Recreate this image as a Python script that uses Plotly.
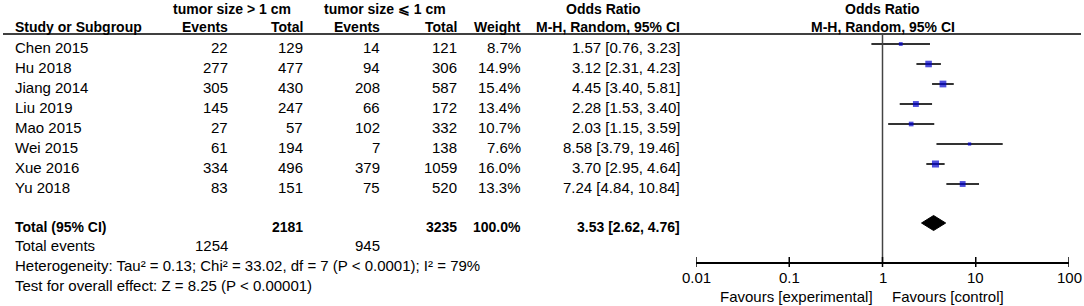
import math
import plotly.graph_objects as go

W, H = 1084, 306

# ---------------- data ----------------
studies = ["Chen 2015", "Hu 2018", "Jiang 2014", "Liu 2019", "Mao 2015", "Wei 2015", "Xue 2016", "Yu 2018"]
events_big = [22, 277, 305, 145, 27, 61, 334, 83]
total_big = [129, 477, 430, 247, 57, 194, 496, 151]
events_small = [14, 94, 208, 66, 102, 7, 379, 75]
total_small = [121, 306, 587, 172, 332, 138, 1059, 520]
weights = [8.7, 14.9, 15.4, 13.4, 10.7, 7.6, 16.0, 13.3]
odds = [1.57, 3.12, 4.45, 2.28, 2.03, 8.58, 3.70, 7.24]
ci_low = [0.76, 2.31, 3.40, 1.53, 1.15, 3.79, 2.95, 4.84]
ci_high = [3.23, 4.23, 5.81, 3.40, 3.59, 19.46, 4.64, 10.84]

pooled_total_big = 2181
pooled_total_small = 3235
pooled_weight = 100.0
pooled_or = 3.53
pooled_low = 2.62
pooled_high = 4.76
total_events_big = 1254
total_events_small = 945

heterogeneity_text = "Heterogeneity: Tau² = 0.13; Chi² = 33.02, df = 7 (P < 0.0001); I² = 79%"
overall_text = "Test for overall effect: Z = 8.25 (P < 0.00001)"

tick_vals = [0.01, 0.1, 1, 10, 100]
tick_labels = ["0.01", "0.1", "1", "10", "100"]

# ---------------- layout constants ----------------
FONT = "Liberation Sans, Arial, sans-serif"
FS = 15
FSB = 14
ROW0, STEP = 44, 20
TXT_OFF = 3
TOTAL_Y = 223
AXIS_Y = 262
HEAD_LINE_Y = 34
C_EV1, C_TOT1, C_EV2, C_TOT2, C_W, C_CI = 230, 305, 382, 459, 523, 682
LEFT = 13

row_y = [ROW0 + i * STEP for i in range(len(studies))]

fig = go.Figure()

# CI lines
xs, ys = [], []
for lo, hi, y in zip(ci_low, ci_high, row_y):
    xs += [lo, hi, None]
    ys += [y, y, None]
fig.add_trace(go.Scatter(x=xs, y=ys, mode="lines", line=dict(color="#333333", width=2),
                         hoverinfo="skip", showlegend=False))
# squares
fig.add_trace(go.Scatter(x=odds, y=row_y, mode="markers",
                         marker=dict(symbol="square", color="#0000CC",
                                     size=[w * 0.44 for w in weights], line=dict(width=0)),
                         showlegend=False))
# diamond
DH = 7.5
fig.add_trace(go.Scatter(x=[pooled_low, pooled_or, pooled_high, pooled_or, pooled_low],
                         y=[TOTAL_Y, TOTAL_Y - DH, TOTAL_Y, TOTAL_Y + DH, TOTAL_Y],
                         mode="lines", fill="toself", fillcolor="black",
                         line=dict(color="black", width=1), showlegend=False))

annots = []


def txt(x, y, s, anchor="right", bold=False, xref="paper", xshift=0):
    annots.append(dict(
        x=x / W if xref == "paper" else math.log10(x), xref=xref, y=y, yref="y",
        text=f"<b>{s}</b>" if bold else s, showarrow=False,
        xanchor=anchor, yanchor="middle", xshift=xshift,
        font=dict(family=FONT, size=FSB if bold else FS, color="black")))


# headers
H1, H2 = 9, 27
txt(232, H1, "tumor size > 1 cm", "center", True)
txt(385, H1, "tumor size ⩽ 1 cm", "center", True)
txt(603, H1, "Odds Ratio", "center", True)
txt(LEFT, H2, "Study or Subgroup", "left", True)
txt(C_EV1, H2, "Events", "right", True)
txt(C_TOT1, H2, "Total", "right", True)
txt(C_EV2, H2, "Events", "right", True)
txt(C_TOT2, H2, "Total", "right", True)
txt(C_W, H2, "Weight", "right", True)
txt(C_CI, H2, "M-H, Random, 95% CI", "right", True)
txt(1, H1, "Odds Ratio", "center", True, xref="x")
txt(1, H2, "M-H, Random, 95% CI", "center", True, xref="x")

# rows
for i, s in enumerate(studies):
    y = row_y[i] + TXT_OFF
    txt(LEFT, y, s, "left")
    txt(C_EV1, y, str(events_big[i]))
    txt(C_TOT1, y, str(total_big[i]))
    txt(C_EV2, y, str(events_small[i]))
    txt(C_TOT2, y, str(total_small[i]))
    txt(C_W, y, f"{weights[i]:.1f}%")
    txt(C_CI, y, f"{odds[i]:.2f} [{ci_low[i]:.2f}, {ci_high[i]:.2f}]")

ty = TOTAL_Y + 4
txt(LEFT, ty, "Total (95% CI)", "left", True)
txt(C_TOT1, ty, str(pooled_total_big), "right", True)
txt(C_TOT2, ty, str(pooled_total_small), "right", True)
txt(C_W, ty, f"{pooled_weight:.1f}%", "right", True)
txt(C_CI, ty, f"{pooled_or:.2f} [{pooled_low:.2f}, {pooled_high:.2f}]", "right", True)

txt(LEFT, 245, "Total events", "left")
txt(C_EV1, 245, str(total_events_big))
txt(C_EV2, 245, str(total_events_small))
txt(LEFT, 265, heterogeneity_text, "left")
txt(LEFT, 285, overall_text, "left")

# tick labels of the forest axis
for tv, tl in zip(tick_vals, tick_labels):
    txt(tv, 277, tl, "center", xref="x")

# favours labels
txt(1, 296, "Favours [experimental]", "right", xref="x", xshift=-8)
txt(1, 296, "Favours [control]", "left", xref="x", xshift=7)

shapes = [
    dict(type="line", xref="paper", yref="y", x0=3 / W, x1=1081 / W, y0=HEAD_LINE_Y, y1=HEAD_LINE_Y,
         line=dict(color="black", width=1.5)),
    dict(type="line", xref="x", yref="y", x0=1, x1=1, y0=HEAD_LINE_Y, y1=AXIS_Y,
         line=dict(color="#444444", width=1.5)),
]
for tv in tick_vals:
    shapes.append(dict(type="line", xref="x", yref="y", x0=tv, x1=tv, y0=AXIS_Y - 5, y1=AXIS_Y + 5,
                       line=dict(color="black", width=1.5)))

fig.update_layout(
    template="none",
    autosize=False,
    width=W, height=H, margin=dict(l=0, r=0, t=0, b=0, pad=0, autoexpand=False),
    paper_bgcolor="white", plot_bgcolor="rgba(0,0,0,0)",
    annotations=annots, shapes=shapes,
    xaxis=dict(type="log", range=[-2, 2], domain=[696 / W, 1069 / W],
               anchor="free", position=1 - AXIS_Y / H,
               showline=True, linecolor="black", linewidth=1.5,
               ticks="", showticklabels=False, automargin=False,
               showgrid=False, zeroline=False, fixedrange=True),
    yaxis=dict(range=[H, 0], domain=[0, 1], visible=False, fixedrange=True, automargin=False),
    showlegend=False,
)

fig.write_html("out.html",
               config={"displayModeBar": False, "staticPlot": True},
               post_script="document.body.style.margin='0';document.body.style.overflow='hidden';")
